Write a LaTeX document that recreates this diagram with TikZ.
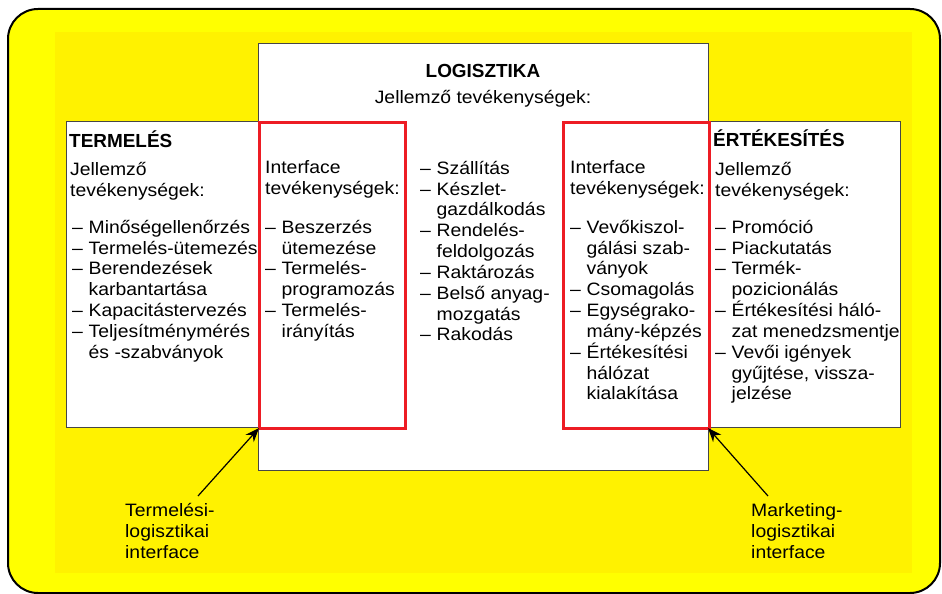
\documentclass[tikz,border=0pt]{standalone}
\usepackage{fontspec}
\setmainfont[FakeStretch=1.08]{Liberation Sans}
\newfontfamily\headfont{Liberation Sans}
\usetikzlibrary{arrows.meta}
\definecolor{outeryellow}{RGB}{255,255,0}
\definecolor{inneryellow}{RGB}{255,242,0}
\definecolor{framered}{RGB}{237,28,36}
\definecolor{boxgray}{RGB}{70,70,70}
% list helpers: a dash with hanging indent for continuation lines
\newcommand\itm{\makebox[16.5bp][l]{–}}
\newcommand\cnt{\hspace*{16.5bp}}
\begin{document}
\begin{tikzpicture}[x=1bp,y=-1bp,
  panel/.style={draw=boxgray, line width=1bp, fill=white, rectangle, inner sep=0pt, anchor=north west},
  redframe/.style={draw=framered, line width=3bp, rectangle, inner sep=0pt, anchor=north west},
  % multi-line text: the given point is the baseline of the first line
  body/.style={anchor=north west, yshift=14.56bp, inner sep=0pt, align=left,
    font=\fontsize{18}{20.9}\selectfont, execute at begin node=\strut},
  line/.style={anchor=base, inner sep=0pt, font=\fontsize{18}{20.9}\selectfont},
  heading/.style={anchor=base west, inner sep=0pt, font=\headfont\bfseries\fontsize{19}{22}\selectfont},
  pointer/.style={-{Stealth[length=14bp,width=11bp]}, line width=1.2bp}]
\useasboundingbox (0,0) rectangle (942,594);

% background frame
\draw[fill=outeryellow, line width=2bp, rounded corners=30bp] (8,9) rectangle (940,593);
\fill[inneryellow] (55,32) rectangle (912,573);

% panels
\node[panel, minimum width=450bp, minimum height=427bp] (logbox) at (258,43) {};
\node[panel, minimum width=192bp, minimum height=306bp] (termbox) at (66,121) {};
\node[panel, minimum width=192bp, minimum height=306bp] (ertbox) at (708,121) {};
\node[redframe, minimum width=146bp, minimum height=306bp] (ifleft) at (258,121) {};
\node[redframe, minimum width=146bp, minimum height=306bp] (ifright) at (562,121) {};

% logistics header
\node[heading, anchor=base] (logtitle) at (483,78) {LOGISZTIKA};
\node[line] (logsub) at (483,104) {Jellemző tevékenységek:};

% production
\node[heading] (termtitle) at (69,148) {TERMELÉS};
\node[body] (termsub) at (70,177) {Jellemző\\tevékenységek:};
\node[body] (termlist) at (72,234.5) {\itm Minőségellenőrzés\\
\itm Termelés-ütemezés\\
\itm Berendezések\\
\cnt karbantartása\\
\itm Kapacitástervezés\\
\itm Teljesítménymérés\\
\cnt és -szabványok};

% production-logistics interface
\node[body] (ifleftsub) at (265,175) {Interface\\tevékenységek:};
\node[body] (ifleftlist) at (265,234.5) {\itm Beszerzés\\
\cnt ütemezése\\
\itm Termelés-\\
\cnt programozás\\
\itm Termelés-\\
\cnt irányítás};

% logistics activities
\node[body] (loglist) at (420,175.5) {\itm Szállítás\\
\itm Készlet-\\
\cnt gazdálkodás\\
\itm Rendelés-\\
\cnt feldolgozás\\
\itm Raktározás\\
\itm Belső anyag-\\
\cnt mozgatás\\
\itm Rakodás};

% marketing-logistics interface
\node[body] (ifrightsub) at (570,175) {Interface\\tevékenységek:};
\node[body] (ifrightlist) at (570,234.5) {\itm Vevőkiszol-\\
\cnt gálási szab-\\
\cnt ványok\\
\itm Csomagolás\\
\itm Egységrako-\\
\cnt mány-képzés\\
\itm Értékesítési\\
\cnt hálózat\\
\cnt kialakítása};

% sales
\node[heading] (erttitle) at (713,147) {ÉRTÉKESÍTÉS};
\node[body] (ertsub) at (715,177) {Jellemző\\tevékenységek:};
\node[body] (ertlist) at (715,234.5) {\itm Promóció\\
\itm Piackutatás\\
\itm Termék-\\
\cnt pozicionálás\\
\itm Értékesítési háló-\\
\cnt zat menedzsmentje\\
\itm Vevői igények\\
\cnt gyűjtése, vissza-\\
\cnt jelzése};

% interface labels and pointers
\node[body] (lblleft) at (125,518) {Termelési-\\logisztikai\\interface};
\node[body] (lblright) at (751,518) {Marketing-\\logisztikai\\interface};
\coordinate (tailleft) at (198,496);
\coordinate (tailright) at (768,496);
\draw[pointer] (tailleft) -- (termbox.south east);
\draw[pointer] (tailright) -- (ertbox.south west);
\end{tikzpicture}
\end{document}
